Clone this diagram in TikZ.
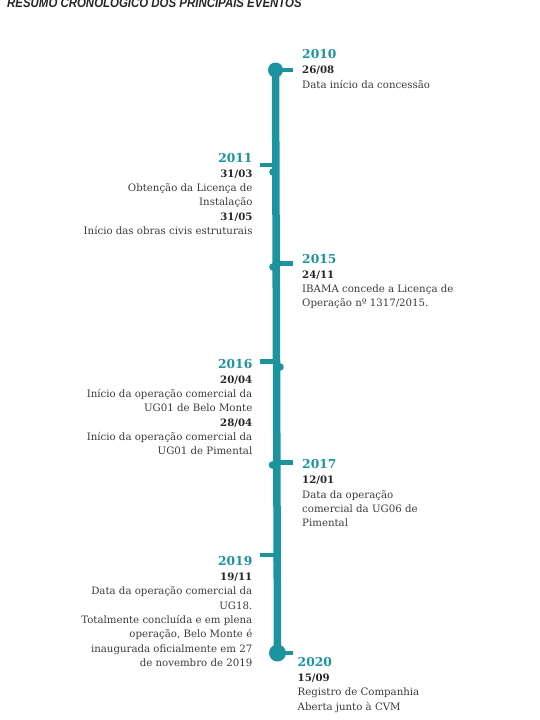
\documentclass[tikz,border=0pt]{standalone}
\usepackage{fontspec}
\setmainfont{DejaVu Serif}
\setsansfont{Liberation Sans}
\usetikzlibrary{positioning}

\definecolor{riverteal}{RGB}{27,148,158}
\definecolor{dategray}{RGB}{38,38,38}
\definecolor{textgray}{RGB}{58,58,58}

\newcommand{\yearlbl}[1]{{\fontsize{12.3}{14.3}\selectfont\bfseries\color{riverteal}#1}}
\newcommand{\datelbl}[1]{{\bfseries\color{dategray}#1}}

\tikzset{
    axis/.style={riverteal,line width=7.5pt},
    tick/.style={riverteal,line width=4.5pt},
    event/.style={inner sep=0pt,text=textgray,font=\fontsize{10.2}{14.3}\selectfont},
    leftevent/.style={event,align=right,anchor=north east},
    rightevent/.style={event,align=left,anchor=north west}
}

\begin{document}
\begin{tikzpicture}[x=1pt,y=-1pt]
    \useasboundingbox (0,0) rectangle (540,720);

    % Title
    \node[anchor=base west,inner sep=0pt,text=dategray,
          font=\sffamily\bfseries\itshape\fontsize{13}{15}\selectfont] (title) at (7,7.3)
          {\scalebox{0.88}[1]{RESUMO CRONOLÓGICO DOS PRINCIPAIS EVENTOS}};

    % Timeline
    \coordinate (top) at (275.5,70);
    \coordinate (bottom) at (277.5,653);
    \draw[axis] (top) -- (bottom);
    \fill[riverteal] (top) circle (7.5);
    \fill[riverteal] (bottom) circle (8.5);

    % Knots on the line
    \coordinate (k2011) at (276,165);
    \coordinate (k2015) at (276,263.3);
    \coordinate (k2016) at (276.5,361.7);
    \coordinate (k2017) at (277,462.7);
    \coordinate (k2019) at (277,555);
    \foreach \x/\y in {273/172, 273/267, 280/367, 272.5/465, 277/560} {
        \fill[riverteal] (\x,\y) circle (3.8);
    }

    % Events
    \node[rightevent] (ev2010) at (302,49.3)
        {\yearlbl{2010}\\[1pt]\datelbl{26/08}\\Data início da concessão};
    \node[leftevent] (ev2011) at (252.7,152.7)
        {\yearlbl{2011}\\[1pt]\datelbl{31/03}\\Obtenção da Licença de\\Instalação\\
         \datelbl{31/05}\\Início das obras civis estruturais};
    \node[rightevent] (ev2015) at (302,253.7)
        {\yearlbl{2015}\\[1pt]\datelbl{24/11}\\IBAMA concede a Licença de\\Operação nº 1317/2015.};
    \node[leftevent] (ev2016) at (252.5,358.7)
        {\yearlbl{2016}\\[1pt]\datelbl{20/04}\\Início da operação comercial da\\UG01 de Belo Monte\\
         \datelbl{28/04}\\Início da operação comercial da\\UG01 de Pimental};
    \node[rightevent] (ev2017) at (302,459.3)
        {\yearlbl{2017}\\[1pt]\datelbl{12/01}\\Data da operação\\comercial da UG06 de\\Pimental};
    \node[leftevent] (ev2019) at (252.5,556)
        {\yearlbl{2019}\\[1pt]\datelbl{19/11}\\Data da operação comercial da\\UG18.\\
         Totalmente concluída e em plena\\operação, Belo Monte é\\inaugurada oficialmente em 27\\
         de novembro de 2019};
    \node[rightevent] (ev2020) at (297.5,657)
        {\yearlbl{2020}\\[1pt]\datelbl{15/09}\\Registro de Companhia\\Aberta junto à CVM};

    % Ticks
    \draw[tick] (top) -- ([xshift=-9pt]top -| ev2010.west);
    \draw[tick] (k2011) -- ([xshift=7pt]k2011 -| ev2011.east);
    \draw[tick] (k2015) -- ([xshift=-9pt]k2015 -| ev2015.west);
    \draw[tick] (k2016) -- ([xshift=7pt]k2016 -| ev2016.east);
    \draw[tick] (k2017) -- ([xshift=-9pt]k2017 -| ev2017.west);
    \draw[tick] (k2019) -- ([xshift=7pt]k2019 -| ev2019.east);
    \draw[tick] (bottom) -- ([xshift=-4.5pt]bottom -| ev2020.west);
\end{tikzpicture}
\end{document}
